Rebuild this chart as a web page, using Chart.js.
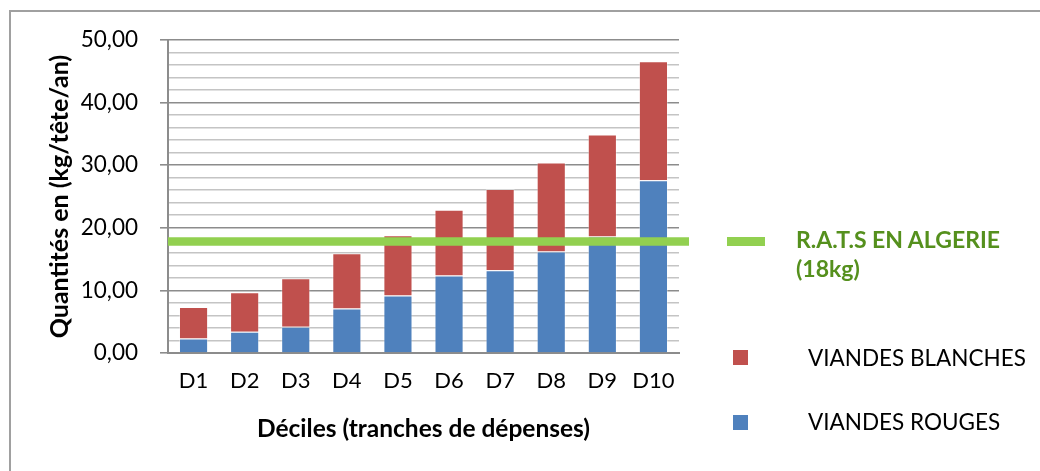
<!DOCTYPE html>
<html>
<head>
<meta charset="utf-8">
<script src="https://cdn.jsdelivr.net/npm/chart.js@4"></script>
<style>
  body { margin: 0; background: #fff; font-family: Lato, "Noto Sans", sans-serif; }
  #wrap { position: relative; width: 1040px; height: 471px; overflow: hidden; }
  #frame { position: absolute; left: 9px; top: 10px; width: 1100px; height: 500px;
           border-top: 2px solid #a0a0a0; border-left: 2px solid #a0a0a0; box-sizing: border-box; }
  .leg { position: absolute; white-space: nowrap; font-size: 22.5px; color: #000; }
  .rats { color: #55901d; font-weight: bold; font-size: 23px; line-height: 29px; }
  .sw { position: absolute; width: 15px; height: 15px; }
</style>
</head>
<body>
<div id="wrap">
  <div id="frame"></div>
  <canvas id="myChart" width="1040" height="471" style="position:absolute;left:0;top:0"></canvas>
  <div class="sw" style="left:727px;top:237px;width:38px;height:9px;background:#92D050"></div>
  <div class="leg rats" style="left:796px;top:225px">R.A.T.S EN ALGERIE<br>(18kg)</div>
  <div class="sw" style="left:733px;top:350px;background:#C0504D"></div>
  <div class="leg" style="left:808px;top:344px">VIANDES BLANCHES</div>
  <div class="sw" style="left:733px;top:415px;background:#4F81BD"></div>
  <div class="leg" style="left:808px;top:408px">VIANDES ROUGES</div>
</div>
<script>
// valeurs (kg/tête/an)
const deciles = ["D1", "D2", "D3", "D4", "D5", "D6", "D7", "D8", "D9", "D10"];
const viandesRouges = [2.3, 3.4, 4.2, 7.1, 9.2, 12.4, 13.2, 16.2, 18.6, 27.6];
const viandesBlanches = [5.05, 6.3, 7.75, 8.85, 9.6, 10.5, 13.0, 14.25, 16.3, 19.0];
const ratsAlgerie = 17.8;
const yMax = 50;

const font = 'Lato, "Noto Sans", sans-serif';
const isMajor = v => v % 10 === 0;

// ligne R.A.T.S (dépasse un peu la zone du graphique, comme dans Excel)
const ratsLine = {
  id: 'ratsLine',
  afterDatasetsDraw(chart) {
    const { ctx, chartArea, scales } = chart;
    const y = scales.y.getPixelForValue(ratsAlgerie);
    ctx.save();
    ctx.strokeStyle = '#92D050';
    ctx.lineWidth = 8.5;
    ctx.beginPath();
    ctx.moveTo(chartArea.left, y);
    ctx.lineTo(chartArea.right + 10, y);
    ctx.stroke();
    ctx.restore();
  }
};

const ctx = document.getElementById('myChart').getContext('2d');
new Chart(ctx, {
  type: 'bar',
  data: {
    labels: deciles,
    datasets: [{
      label: 'VIANDES ROUGES',
      data: viandesRouges,
      backgroundColor: '#4F81BD',
      borderColor: 'rgba(255,255,255,0.35)',
      borderWidth: 1
    }, {
      label: 'VIANDES BLANCHES',
      data: viandesBlanches,
      backgroundColor: '#C0504D',
      borderColor: 'rgba(255,255,255,0.35)',
      borderWidth: 1
    }]
  },
  options: {
    responsive: false,
    animation: false,
    devicePixelRatio: 1,
    categoryPercentage: 1,
    barPercentage: 0.57,
    layout: { padding: { top: 40, right: 361, bottom: 0, left: 0 } },
    plugins: {
      legend: { display: false },
      tooltip: { enabled: false }
    },
    scales: {
      x: {
        stacked: true,
        grid: { display: false, drawTicks: false },
        border: { display: true, color: '#8c8c8c', width: 2 },
        ticks: { color: '#000', font: { family: font, size: 22 }, padding: 15 },
        title: {
          display: true,
          text: 'Déciles (tranches de dépenses)',
          color: '#000',
          font: { family: font, size: 24.5, weight: 'bold' },
          padding: { top: 0, bottom: 27 }
        },
        afterFit(scale) { scale.height = 118; }
      },
      y: {
        stacked: true,
        min: 0,
        max: yMax,
        grid: {
          color: c => isMajor(c.tick.value) ? '#8c8c8c' : '#c4c4c4',
          tickColor: c => isMajor(c.tick.value) ? '#8c8c8c' : 'rgba(0,0,0,0)',
          lineWidth: 1.6,
          tickLength: 8
        },
        border: { display: true, color: '#8c8c8c', width: 2 },
        ticks: {
          stepSize: 2,
          autoSkip: false,
          color: '#000',
          padding: 22,
          font: { family: font, size: 22.5 },
          callback: v => isMajor(v) ? v.toFixed(2).replace('.', ',') : ''
        },
        title: {
          display: true,
          text: 'Quantités en (kg/tête/an)',
          color: '#000',
          font: { family: font, size: 25, weight: 'bold' },
          padding: { top: 45, bottom: 0 }
        },
        afterFit(scale) { scale.width = 168; }
      }
    }
  },
  plugins: [ratsLine]
});
</script>
</body>
</html>
